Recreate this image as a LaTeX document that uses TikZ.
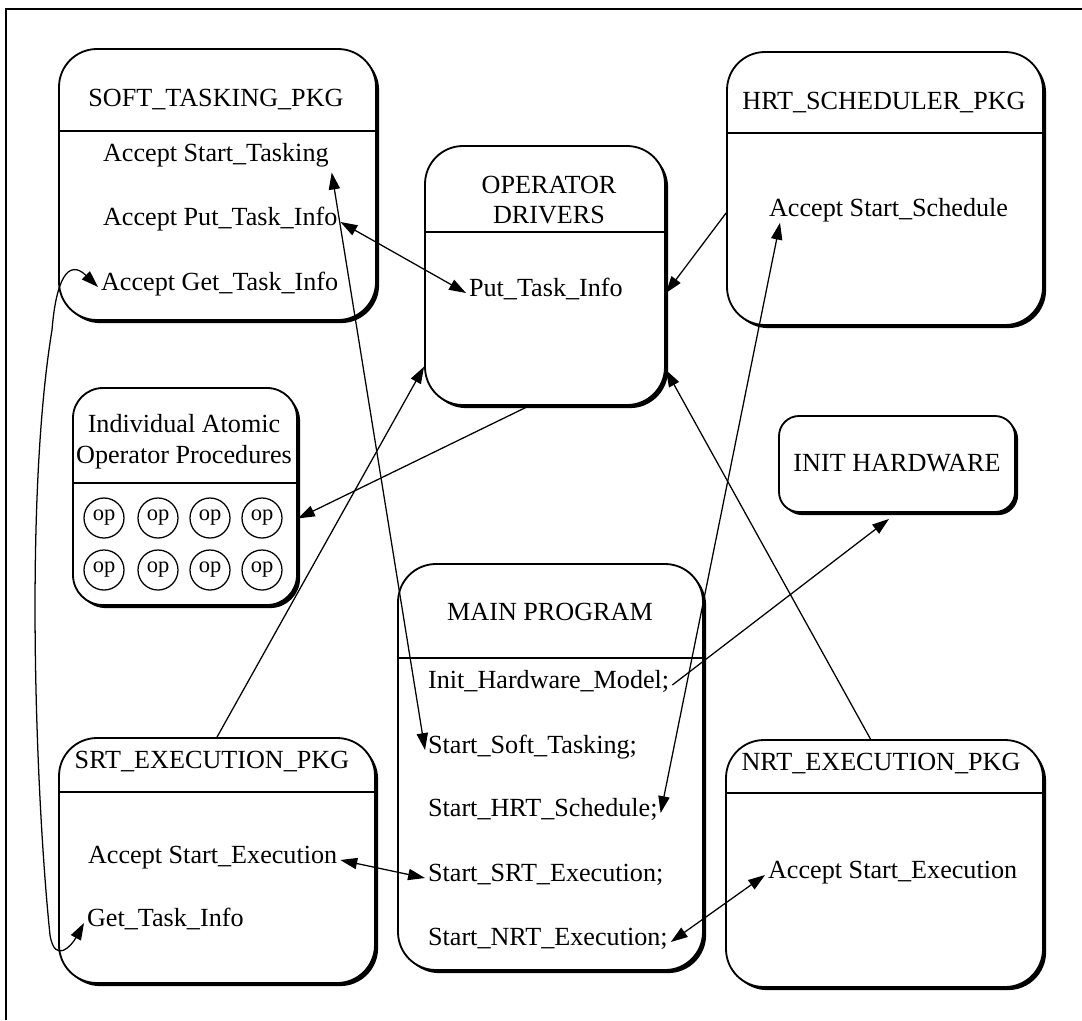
\documentclass[tikz,border=0pt]{standalone}
\usepackage{fontspec}
\setmainfont{Liberation Serif}
\usetikzlibrary{arrows.meta,fit,shadows}
\tikzset{
  pkg/.style={draw, line width=1.3pt, fill=white, rounded corners=0.95cm, inner sep=0pt,
    drop shadow={shadow xshift=2.2pt, shadow yshift=-2.2pt, fill=black, opacity=1}},
  divl/.style={line width=1.1pt},
  lbl/.style={inner sep=2pt, text height=0.7em, text depth=0.25em},
  opc/.style={draw, circle, line width=0.9pt, minimum size=1cm, inner sep=0pt, font=\fontsize{16}{18}\selectfont},
  arr/.style={line width=0.9pt, -{Triangle[length=12pt,width=8pt]}},
  darr/.style={line width=0.9pt, {Triangle[length=12pt,width=8pt]}-{Triangle[length=12pt,width=8pt]}}
}

\begin{document}
\begin{tikzpicture}[x=0.025cm, y=-0.025cm, font=\fontsize{18.6}{21}\selectfont]
		%%%%% FRAME %%%%%
		\useasboundingbox (0,0) rectangle (1082,1020);
		\draw[line width=1.2pt] (6,1020) -- (6,9) -- (1082,9);
		
		%%%%% SOFT TASKING %%%%%
		\node[pkg, fit={(59,49) (376,320)}] (soft) {};
		\draw[divl] (soft.west |- 0,131) -- (soft.east |- 0,131);
		\node[lbl] (softT) at (216,103) {SOFT\_TASKING\_PKG};
		\node[lbl, anchor=west] (stTask) at (100,158) {Accept Start\_Tasking};
		\node[lbl, anchor=west] (stPut) at (100,222) {Accept Put\_Task\_Info};
		\node[lbl, anchor=west] (stGet) at (98,287) {Accept Get\_Task\_Info};
		
		%%%%% OPERATOR DRIVERS %%%%%
		\node[pkg, fit={(425,146) (665,405)}] (oper) {};
		\draw[divl] (oper.west |- 0,232) -- (oper.east |- 0,232);
		\node[align=center, inner sep=0pt] (operT) at (549,200) {OPERATOR\\DRIVERS};
		\node[lbl, anchor=west] (opPut) at (466,293) {Put\_Task\_Info};
		
		%%%%% HRT SCHEDULER %%%%%
		\node[pkg, fit={(727,52) (1043,325)}] (hrt) {};
		\draw[divl] (hrt.west |- 0,133) -- (hrt.east |- 0,133);
		\node[lbl] (hrtT) at (884,106) {HRT\_SCHEDULER\_PKG};
		\node[lbl, anchor=west] (hrSched) at (766,213) {Accept Start\_Schedule};
		
		%%%%% INIT HARDWARE %%%%%
		\node[pkg, rounded corners=0.5cm, fit={(779,416) (1015,512)}] (inithw) {};
		\node[lbl] (inithwT) at (897,468) {INIT HARDWARE};
		
		%%%%% ATOMIC PROCEDURES %%%%%
		\node[pkg, rounded corners=0.75cm, fit={(73,388) (297,605)}] (atomic) {};
		\draw[divl] (atomic.west |- 0,483) -- (atomic.east |- 0,483);
		\node[align=center, inner sep=0pt, font=\fontsize{18.6}{22}\selectfont] (atomicT) at (184,442) {Individual Atomic\\Operator Procedures};
		\foreach \r/\y in {1/518,2/570}
			\foreach \c/\x in {1/104,2/158,3/210,4/262}
				\node[opc] (op\r\c) at (\x,\y) {op};
		
		%%%%% SRT EXECUTION %%%%%
		\node[pkg, fit={(59,738) (375,983)}] (srt) {};
		\draw[divl] (srt.west |- 0,792) -- (srt.east |- 0,792);
		\node[lbl] (srtT) at (212,765) {SRT\_EXECUTION\_PKG};
		\node[lbl, anchor=west] (srtAcc) at (85,860) {Accept Start\_Execution};
		\node[lbl, anchor=west] (srtGet) at (84,923) {Get\_Task\_Info};
		
		%%%%% MAIN PROGRAM %%%%%
		\node[pkg, fit={(398,564) (703,970)}] (mainp) {};
		\draw[divl] (mainp.west |- 0,658) -- (mainp.east |- 0,658);
		\node[lbl] (mainT) at (550,617) {MAIN PROGRAM};
		\node[lbl, anchor=west] (mInit) at (425,685) {Init\_Hardware\_Model;};
		\node[lbl, anchor=west] (mSoft) at (425,750) {Start\_Soft\_Tasking;};
		\node[lbl, anchor=west] (mHrt) at (425,813) {Start\_HRT\_Schedule;};
		\node[lbl, anchor=west] (mSrt) at (425,878) {Start\_SRT\_Execution;};
		\node[lbl, anchor=west] (mNrt) at (425,942) {Start\_NRT\_Execution;};
		
		%%%%% NRT EXECUTION %%%%%
		\node[pkg, fit={(726,740) (1043,987)}] (nrt) {};
		\draw[divl] (nrt.west |- 0,793) -- (nrt.east |- 0,793);
		\node[lbl] (nrtT) at (881,767) {NRT\_EXECUTION\_PKG};
		\node[lbl, anchor=west] (nrtAcc) at (765,875) {Accept Start\_Execution};
		
		%%%%% CALLS %%%%%
		\draw[darr] (stPut.east) -- (opPut.west);
		\draw[darr] ([yshift=-0.12cm]stTask.south east) -- (mSoft.west);
		\draw[darr] (srtGet.west) .. controls (72,945) and (55,965) .. (50,935)
			.. controls (36,800) and (24,500) .. (52,330)
			.. controls (56,280) and (68,258) .. (stGet.west);
		\draw[darr] (srtAcc.east) -- (mSrt.west);
		\draw[darr] (nrtAcc.west) -- (mNrt.east);
		\draw[arr] (mInit.east) -- ([xshift=-0.2cm,yshift=-0.15cm]inithw.south);
		\draw[darr] (mHrt.east) -- ([xshift=0.35cm]hrSched.south west);
		\draw[arr] (hrt.west |- hrSched.center) -- (oper.east |- opPut.center);
		\draw[arr] ([xshift=-0.4cm]oper.south) -- (atomic.-11);
		\draw[arr] (srt.north) -- (oper.217);
		\draw[arr] ([xshift=-0.35cm]nrt.north) -- (oper.-38);
		
		%%%%% END %%%%%
	\end{tikzpicture}
\end{document}
